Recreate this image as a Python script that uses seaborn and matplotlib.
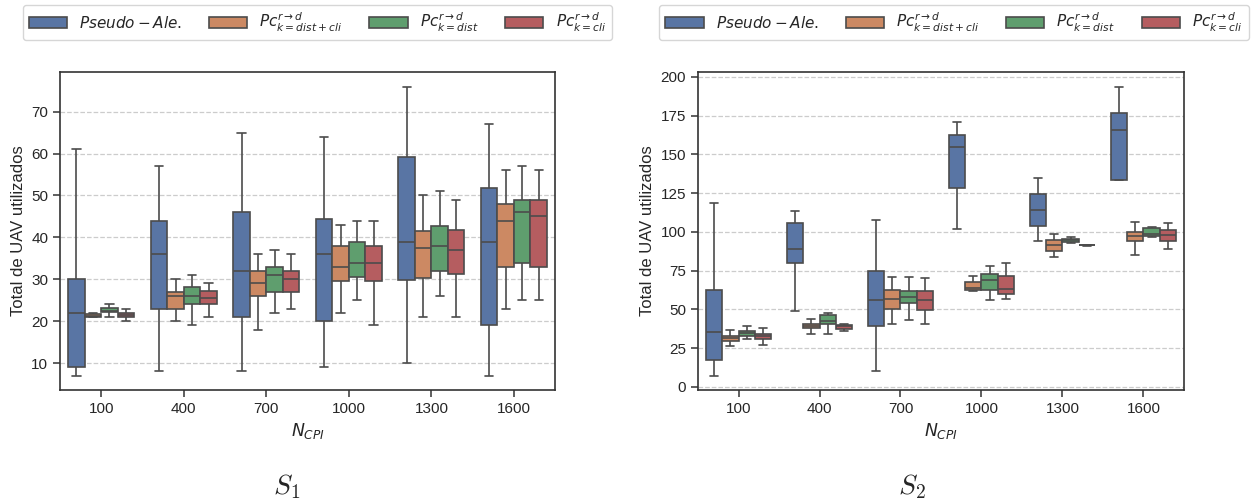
import numpy as np
import pandas as pd
import matplotlib
matplotlib.use("Agg")
import matplotlib.pyplot as plt
import seaborn as sns

# Number of CPIs evaluated in each scenario
n_cpi = ["100", "400", "700", "1000", "1300", "1600"]

# Five-number summaries per CPI count: [min, Q1, median, Q3, max]
s1_pseudo = [[7, 9, 22, 30, 61], [8, 22.9, 36, 44, 57], [8, 21, 32, 46, 65],
             [9, 20, 36, 44.4, 64], [10, 29.8, 39, 59.1, 76], [7, 19, 39, 51.9, 67]]
s1_dist_cli = [[21, 21, 21.2, 21.6, 22], [20, 23, 26, 27, 30], [18, 26, 29, 32, 36],
               [22, 29.5, 33, 38, 43], [21, 30.2, 37.5, 41.6, 50], [23, 33, 44, 48, 56]]
s1_dist = [[21, 22.1, 22.5, 23.1, 24], [19, 24, 26, 28.2, 31], [22, 27, 31, 33, 37],
           [25, 30.5, 34, 39, 44], [26, 32, 38, 42.7, 51], [25, 34, 46, 49, 57]]
s1_cli = [[20, 21, 21.5, 22, 23], [21, 24, 25.5, 27.3, 29], [23, 27, 30, 32, 36],
          [19, 29.5, 34, 38, 44], [21, 31.3, 37, 41.7, 49], [25, 33, 45, 49, 56]]

s2_pseudo = [[7.3, 17.4, 35.5, 62.4, 118.9], [49, 80.2, 89.2, 106, 113.8],
             [10.1, 39.4, 56.3, 74.8, 107.7], [101.7, 128.4, 154.6, 162.6, 170.8],
             [94, 104.1, 114.4, 124.5, 134.8], [133.8, 133.8, 165.8, 176.6, 193.8]]
s2_dist_cli = [[26.2, 29.9, 31.8, 32.9, 37], [34, 38, 39.6, 40.9, 44],
               [40.9, 50.5, 57, 62.6, 71], [62, 62.4, 64.1, 67.7, 71.8],
               [83.9, 87.7, 91.4, 94.8, 98.7], [84.9, 94, 97.4, 99.8, 106.7]]
s2_dist = [[31, 33.1, 34.8, 35.9, 39], [34, 40.6, 42.6, 46.7, 48],
           [43, 54.4, 58, 62.2, 71], [55.9, 62.4, 68.8, 73.1, 77.8],
           [92.9, 93.5, 95, 95.7, 96.8], [96.8, 97.2, 98.9, 102.8, 103.2]]
s2_cli = [[27, 31, 32.9, 34, 38], [36.1, 37.4, 39.1, 40.2, 40.9],
          [40.9, 49.9, 55.9, 61.7, 70], [57, 60, 63.2, 71.4, 80],
          [91.2, 91.3, 91.4, 91.5, 91.6], [88.8, 94.2, 98, 101, 105.6]]

methods = [r"$Pseudo-Ale.$",
           r"$Pc_{k=dist+cli}^{r\rightarrow d}$",
           r"$Pc_{k=dist}^{r\rightarrow d}$",
           r"$Pc_{k=cli}^{r\rightarrow d}$"]

scenarios = {
    r"$S_1$": [s1_pseudo, s1_dist_cli, s1_dist, s1_cli],
    r"$S_2$": [s2_pseudo, s2_dist_cli, s2_dist, s2_cli],
}


def to_frame(series):
    rows = []
    for method, summaries in zip(methods, series):
        for cpi, summary in zip(n_cpi, summaries):
            for v in summary:
                rows.append({"cpi": cpi, "metodo": method, "uav": v})
    return pd.DataFrame(rows)


sns.set_theme(style="ticks", palette="deep")
plt.rcParams["font.family"] = ["Liberation Sans", "DejaVu Sans"]
plt.rcParams["mathtext.fontset"] = "dejavusans"

fig = plt.figure(figsize=(12.57, 5.04), dpi=100)
axes = [fig.add_axes([0.0477, 0.226, 0.394, 0.631]),
        fig.add_axes([0.5553, 0.226, 0.3866, 0.631])]
label_x = [0.228, 0.7255]
legend_x = [0.52, 0.527]

for ax, (name, series), lx, gx in zip(axes, scenarios.items(), label_x, legend_x):
    df = to_frame(series)
    sns.boxplot(data=df, x="cpi", y="uav", hue="metodo", order=n_cpi,
                hue_order=methods, whis=(0, 100), linewidth=1.2, ax=ax)
    ax.yaxis.grid(True, linestyle="--", color="#cccccc", linewidth=0.9)
    ax.set_axisbelow(True)
    ax.set_xlabel(r"$N_{CPI}$", fontsize=12.5)
    ax.set_ylabel("Total de UAV utilizados", fontsize=12)
    ax.tick_params(axis="both", labelsize=11, length=5, width=1.1, color="#333333")
    for sp in ax.spines.values():
        sp.set_color("#333333")
        sp.set_linewidth(1.2)
    handles, labels = ax.get_legend_handles_labels()
    ax.legend(handles, labels, loc="lower center", bbox_to_anchor=(gx, 1.1),
              ncol=4, fontsize=11, handlelength=2.5, columnspacing=1.75,
              frameon=True, borderaxespad=0.0)
    fig.text(lx, 0.035, name, ha="center", va="center", fontsize=20,
             math_fontfamily="cm")

fig.savefig("out.png", dpi=100)
